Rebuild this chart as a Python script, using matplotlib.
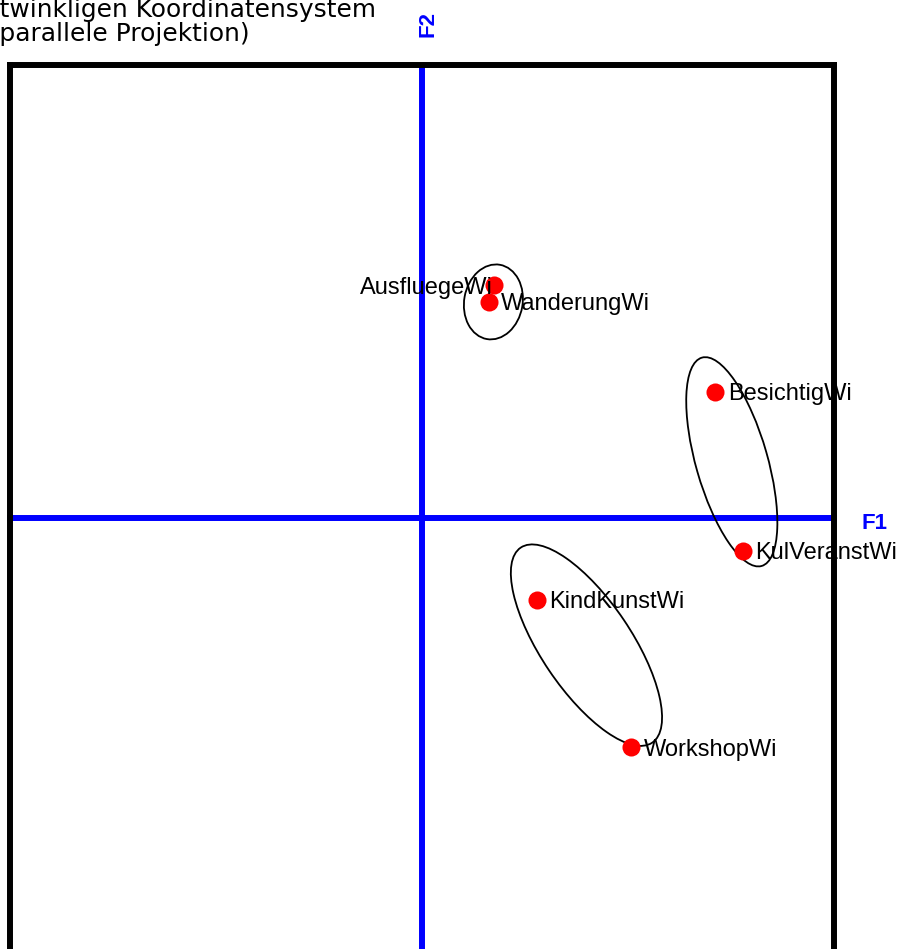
import numpy as np
import matplotlib
matplotlib.use("Agg")
import matplotlib.pyplot as plt
from matplotlib.patches import Ellipse

# point labels and factor coordinates (F1, F2)
labels = ["AusfluegeWi", "WanderungWi", "BesichtigWi", "KulVeranstWi", "KindKunstWi", "WorkshopWi"]
f1 = [0.175, 0.163, 0.713, 0.780, 0.280, 0.509]
f2 = [0.565, 0.526, 0.306, -0.079, -0.198, -0.556]
label_side = ["right", "left", "left", "left", "left", "left"]

# cluster ellipses: centre, axis lengths, rotation
ell_x = [0.174, 0.753, 0.400]
ell_y = [0.525, 0.137, -0.308]
ell_w = [0.183, 0.526, 0.571]
ell_h = [0.142, 0.174, 0.219]
ell_angle = [80, 106, 124]

title_lines = ["Darstellung im rechtwinkligen Koordinatensystem", "(achsparallele Projektion)"]

W, H = 905, 949
fig = plt.figure(figsize=(W / 100, H / 100), dpi=100)
fig.patch.set_facecolor("white")

# axes box runs past the bottom of the picture (cropped original)
ax = fig.add_axes([10 / W, -22.5 / H, 823.5 / W, 906.5 / H])
ax.set_xlim(-1, 1)
ax.set_ylim(-1.1, 1.1)
ax.set_xticks([])
ax.set_yticks([])
for sp in ax.spines.values():
    sp.set_linewidth(4.3)
    sp.set_color("black")
    sp.set_zorder(6)

# blue factor axes
ax.axhline(0, color="#0000ff", lw=4.3, zorder=1, solid_capstyle="projecting", clip_on=False)
ax.axvline(0, color="#0000ff", lw=4.3, zorder=1, solid_capstyle="butt")

for x, y, w, h, a in zip(ell_x, ell_y, ell_w, ell_h, ell_angle):
    ax.add_patch(Ellipse((x, y), w, h, angle=a, fill=False, edgecolor="black", lw=1.3, zorder=2))

ax.plot(f1, f2, "o", color="#ff0000", ms=13, mew=0, zorder=3)

for lab, x, y, side in zip(labels, f1, f2, label_side):
    dx = 9 if side == "left" else -1
    ax.annotate(lab, (x, y), xytext=(dx, -6), textcoords="offset points",
                ha=side, va="baseline", fontsize=17, family="Liberation Sans",
                color="black", zorder=4, annotation_clip=False)

# axis names
fig.text(874 / W, 1 - 523.5 / H, "F1", color="#0000ff", fontsize=16, fontweight="bold",
         family="Liberation Sans", ha="center", va="center")
fig.text(428 / W, 1 - 24 / H, "F2", color="#0000ff", fontsize=16, fontweight="bold",
         family="Liberation Sans", ha="center", va="center", rotation=90)

# title (left part cut off in the original)
fig.text(376 / W, 1 - 17 / H, title_lines[0], fontsize=17.9, family="DejaVu Sans",
         ha="right", va="baseline")
fig.text(250 / W, 1 - 41 / H, title_lines[1], fontsize=17.9, family="DejaVu Sans",
         ha="right", va="baseline")

fig.savefig("out.png", dpi=100, facecolor="white")
